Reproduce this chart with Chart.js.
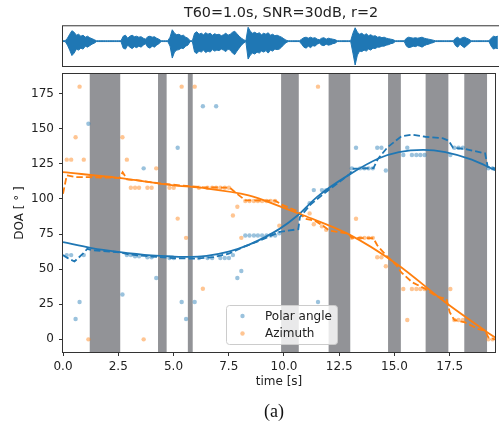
<!DOCTYPE html>
<html>
<head>
<meta charset="utf-8">
<script src="https://cdn.jsdelivr.net/npm/chart.js@4/dist/chart.umd.min.js"></script>
<style>
  html, body { margin: 0; padding: 0; background: #ffffff; }
  #wrap { position: relative; width: 499px; height: 424px; overflow: hidden; background: #ffffff; }
  #wrap canvas { position: absolute; left: 0; top: 0; }
  #caption { position: absolute; left: 224px; width: 100px; top: 401px; text-align: center;
             font-family: 'Liberation Serif', serif; font-size: 18px; line-height: 20px; color: #111; }
</style>
</head>
<body>
<div id="wrap">
  <canvas id="wave" width="499" height="424"></canvas>
  <canvas id="doa" width="499" height="424"></canvas>
  <div id="caption">(a)</div>
</div>
<script>
// ---- figure data -------------------------------------------------------

const titleText = 'T60=1.0s, SNR=30dB, r=2';

// silent intervals of the recording [s]
const silenceStart = [1.21, 4.30, 5.65, 9.87, 12.02, 14.71, 16.41, 18.16];
const silenceEnd   = [2.59, 4.69, 5.87, 10.67, 13.00, 15.29, 17.44, 19.19];

// frame-wise DOA estimates [deg]
const frameTimes = [0.17, 0.37, 0.57, 0.75, 0.94, 1.15,
  2.69, 2.89, 3.07, 3.26, 3.44, 3.65, 3.82, 4.01, 4.22,
  4.82, 5.01, 5.19, 5.37, 5.57,
  5.96, 6.15, 6.33, 6.54, 6.75, 6.93, 7.12, 7.32, 7.51, 7.69, 7.89, 8.07,
  8.25, 8.44, 8.64, 8.82, 9.01, 9.21, 9.40, 9.60, 9.79,
  11.16, 11.35, 11.54, 11.72, 11.91,
  13.07, 13.26, 13.45, 13.64, 13.83, 14.02, 14.22, 14.41, 14.61,
  15.40, 15.58, 15.79, 15.99, 16.17, 16.36,
  17.53, 17.71, 17.90, 18.10,
  19.25, 19.44];
const polarFrames = [60, 60, 14.5, 26.6, 60, 153.6,
  32, 60, 60, 59.2, 59.2, 121.8, 58.5, 58.5, 43.7,
  58, 58, 136.5, 26.6, 14.5,
  26.6, 58, 166, 58, 58, 166, 58, 58, 58, 60, 43.7, 48.7,
  74, 74, 74, 74, 74, 74, 74, 74, 75.6,
  97, 106.3, 26.6, 106.3, 106.3,
  121.8, 136.5, 121.8, 121.8, 121.8, 121.8, 136.5, 136.5, 120.3,
  131.3, 136.5, 131.3, 131.3, 131.3, 131.3,
  131.3, 136.5, 136.5, 136.5,
  121.8, 121.8];
const azimuthFrames = [128, 128, 144, 180, 128, 0,
  144, 128, 108, 108, 108, 0, 108, 108, 121.8,
  108, 108, 86, 180, 72.3,
  180, 108, 36, 108, 108, 108, 108, 108, 108, 88.2, 94.4, 72.3,
  98.5, 98.5, 98.5, 98.5, 98.5, 98.5, 98.5, 98.5, 81,
  89.7, 82, 180, 80.5, 78,
  72.3, 85.9, 72.3, 72.3, 72.3, 72.3, 58.5, 58.5, 52.1,
  35.9, 13.8, 35.9, 35.9, 35.9, 35.9,
  35.9, 13.8, 13.8, 13.8,
  0, 0];

// tracked source direction (dashed)
const polarTrackT   = [0, 0.2, 0.52, 0.9, 1.1, 1.3, 2.6, 3.0, 4.0, 5.0, 6.0, 6.8, 7.5, 8.2, 9.0, 9.8,
  10.65, 10.72, 11.2, 11.9, 12.5, 13.0, 13.1, 14.05, 14.25, 14.7, 15.3, 15.8, 16.4, 17.2, 17.45, 17.65,
  18.2, 19.1, 19.22, 19.55];
const polarTrackDeg = [60, 58, 55.5, 61, 64.5, 63.5, 62, 60.5, 59, 57.8, 57.5, 58.5, 61, 66, 71, 76.5,
  78.5, 87, 96, 105, 112, 118, 121.5, 122, 128.5, 137, 144.5, 145.8, 144.3, 143.2, 141.5, 136.5,
  135.6, 132.5, 123, 121.8];
const azimuthTrackT   = [0, 0.17, 0.6, 1.2, 2.55, 2.7, 2.9, 3.5, 4.5, 5.3, 6.3, 7.55, 7.85, 8.25, 9.6,
  9.9, 10.65, 10.95, 11.4, 11.8, 12.05, 12.9, 13.07, 14.05, 14.22, 14.61, 15.1, 15.3, 15.8, 16.4,
  16.9, 17.35, 17.5, 17.71, 18.2, 18.8, 19.1, 19.25, 19.55];
const azimuthTrackDeg = [103.7, 116.8, 115.5, 115.5, 115, 119, 114, 113, 110.8, 109.7, 108.4, 108, 104,
  99, 98.8, 96, 91, 86, 84.5, 80.5, 77.5, 75.4, 72.3, 72, 67, 60, 52.6, 47.8, 40.7, 35.9,
  30.7, 28.8, 19.3, 13.8, 12.1, 7.3, 6.2, 1.4, 0];

// true source direction (solid)
const polarTrueT   = [0, 1.3, 2.5, 4.0, 5.0, 5.8, 6.5, 7.5, 8.4, 9.8, 10.6, 11.5, 12.9, 14.3, 15.2, 16.3, 17.3, 18.5, 19.55];
const polarTrueDeg = [69.2, 65, 62.3, 59.8, 59, 58.7, 59.5, 62.5, 67.3, 78.7, 88, 101.5, 116.8, 129, 133.4, 135, 133.4, 128, 120.5];
const azimuthTrueT   = [0, 2.5, 5.0, 6.2, 8.4, 9.9, 10.9, 12.9, 15.1, 17.3, 19.1, 19.55];
const azimuthTrueDeg = [119.1, 115, 109.7, 108, 102.5, 94.2, 88.2, 75.1, 53.7, 26.4, 6.2, 1.4];

// microphone signal envelope, one value per 0.1 s starting at 0 s
const waveStep = 0.1;
const waveUpper = [
  0.4, 0.4, 3, 7, 10.5, 9, 6, 7, 5, 6,
  4, 5, 3.5, 2.5, 1.5, 0.4, 0.4, 0.4, 0.4, 0.4,
  0.4, 0.4, 0.4, 0.4, 0.4, 0.4, 0.4, 5, 6, 3,
  5, 6, 4.5, 5, 4, 4.5, 3, 2, 4.5, 5,
  4, 4.5, 3, 2, 0.4, 0.4, 0.4, 0.4, 4, 11.5,
  8, 6.5, 7, 5.5, 6, 4, 3, 0.4, 0.4, 8,
  9.5, 7, 8, 6.5, 8.5, 7, 8, 6, 7.5, 6.5,
  7, 5.5, 6.5, 8, 6, 7, 9, 10, 7.5, 5,
  3, 1.5, 0.4, 14, 10, 8, 9, 7.5, 8.5, 6.5,
  8, 7, 8.5, 6, 7, 5.5, 6, 5, 4, 2.5,
  1, 0.4, 0.4, 0.4, 0.4, 0.4, 0.4, 2, 3.5, 4,
  3, 4, 3, 3.5, 2, 1.5, 3, 3.5, 2, 3,
  2.5, 2, 1.5, 0.4, 0.4, 0.4, 0.4, 0.4, 0.4, 0.4,
  8, 13.5, 9, 7, 8, 6, 7.5, 5.5, 6.5, 5,
  5.5, 4, 4.5, 3.5, 4, 3, 2.5, 2, 1.5, 0.4,
  0.4, 0.4, 0.4, 0.4, 3, 4, 3.5, 3, 3.5, 3,
  3.5, 4, 3, 2.5, 2, 1.5, 1, 0.4, 0.4, 0.4,
  0.4, 0.4, 0.4, 0.4, 0.4, 0.4, 3, 4, 2, 3.5,
  4, 3, 2, 0.4, 0.4, 0.4, 0.4, 0.4, 0.4, 0.4,
  0.4, 0.4, 3, 5, 4.5, 5];
const waveLower = [
  -0.4, -0.4, -4, -9, -14.5, -12, -8, -9, -7, -8,
  -5, -6, -4.5, -3, -2, -0.4, -0.4, -0.4, -0.4, -0.4,
  -0.4, -0.4, -0.4, -0.4, -0.4, -0.4, -0.4, -7, -8, -4,
  -6, -7.5, -5.5, -6.5, -5, -6, -4, -2.5, -6, -7,
  -5, -6, -4, -2.5, -0.4, -0.4, -0.4, -0.4, -5, -17,
  -11, -9, -8.5, -7, -7.5, -5, -4, -0.4, -0.4, -11,
  -12.5, -10, -11, -9, -11.5, -10, -11, -8.5, -10, -9,
  -9.5, -8, -9, -10.5, -8, -9, -12, -13.5, -10, -7,
  -4, -2, -0.4, -18, -14, -12, -13, -11, -12, -10,
  -11, -9.5, -12, -9, -10, -8, -8.5, -8, -6, -3.5,
  -1.5, -0.4, -0.4, -0.4, -0.4, -0.4, -0.4, -3, -6, -7,
  -5, -6.5, -4.5, -5, -3, -2, -4, -4.5, -3, -4,
  -3.5, -2.5, -2, -0.4, -0.4, -0.4, -0.4, -0.4, -0.4, -0.4,
  -12, -24, -14, -10, -10.5, -9, -10, -8, -9, -7,
  -7.5, -6, -6, -5, -5, -4, -3.5, -2.5, -2, -0.4,
  -0.4, -0.4, -0.4, -0.4, -5, -6.5, -6, -5, -5.5, -4.5,
  -5, -6, -4.5, -3.5, -3, -2, -1.5, -0.4, -0.4, -0.4,
  -0.4, -0.4, -0.4, -0.4, -0.4, -0.4, -4.5, -6, -3, -5,
  -6.5, -4.5, -2.5, -0.4, -0.4, -0.4, -0.4, -0.4, -0.4, -0.4,
  -0.4, -0.4, -5, -8, -7, -7.5];

const xTickValues = [0, 2.5, 5, 7.5, 10, 12.5, 15, 17.5];
const yTickValues = [0, 25, 50, 75, 100, 125, 150, 175];

// ---- styling -----------------------------------------------------------

const FONT = "'DejaVu Sans', sans-serif";
const TEXT = '#222222';
const SPINE = '#333333';
const BAND = '#929397';
const BLUE = '#1f77b4';
const ORANGE = '#ff7f0e';
const BLUE_DOT = 'rgba(31,119,180,0.45)';
const ORANGE_DOT = 'rgba(255,127,14,0.45)';
const T_MAX = 19.55;

const xy = (ts, vs) => ts.map((t, i) => ({ x: t, y: vs[i] }));
const waveXY = vs => vs.map((v, i) => ({ x: i * waveStep, y: v }));

// gray silence bands behind the data
const silencePlugin = {
  id: 'silenceBands',
  beforeDatasetsDraw(chart) {
    const { ctx, chartArea: a, scales: { x } } = chart;
    ctx.save();
    ctx.fillStyle = BAND;
    silenceStart.forEach((s, i) => {
      const x0 = x.getPixelForValue(s);
      const x1 = x.getPixelForValue(silenceEnd[i]);
      ctx.fillRect(x0, a.top, x1 - x0, a.bottom - a.top);
    });
    ctx.restore();
  }
};

// box around the plotting area
const framePlugin = {
  id: 'axesFrame',
  afterDraw(chart) {
    const { ctx, chartArea: a } = chart;
    ctx.save();
    ctx.strokeStyle = SPINE;
    ctx.lineWidth = 1;
    ctx.strokeRect(a.left - 0.5, a.top - 0.5, a.right - a.left + 1, a.bottom - a.top + 1);
    ctx.restore();
  }
};

// legend placed inside the axes
const insideLegend = {
  id: 'insideLegend',
  afterDraw(chart) {
    const { ctx } = chart;
    const entries = chart.data.datasets.filter(d => d.inLegend);
    const box = { x: 226.5, y: 305.5, w: 111, h: 39 };
    ctx.save();
    ctx.beginPath();
    ctx.roundRect(box.x, box.y, box.w, box.h, 3);
    ctx.fillStyle = 'rgba(255,255,255,0.8)';
    ctx.fill();
    ctx.strokeStyle = '#cccccc';
    ctx.lineWidth = 1;
    ctx.stroke();
    ctx.font = '12px ' + FONT;
    ctx.textBaseline = 'middle';
    ctx.textAlign = 'left';
    entries.forEach((d, i) => {
      const y = 316 + i * 17.5;
      ctx.beginPath();
      ctx.arc(242.5, y, 2.2, 0, Math.PI * 2);
      ctx.fillStyle = d.backgroundColor;
      ctx.fill();
      ctx.fillStyle = TEXT;
      ctx.fillText(d.label, 265, y + 0.5);
    });
    ctx.restore();
  }
};

Chart.defaults.font.family = FONT;
Chart.defaults.color = TEXT;

// ---- waveform strip ----------------------------------------------------

new Chart(document.getElementById('wave'), {
  type: 'line',
  data: {
    datasets: [
      { data: waveXY(waveUpper), borderColor: BLUE, borderWidth: 1, pointRadius: 0, fill: false, tension: 0 },
      { data: waveXY(waveLower), borderColor: BLUE, borderWidth: 1, pointRadius: 0, tension: 0,
        fill: '-1', backgroundColor: BLUE }
    ]
  },
  options: {
    responsive: false,
    animation: false,
    events: [],
    layout: { padding: { left: 63, right: 0, top: 0, bottom: 358 } },
    plugins: {
      legend: { display: false },
      tooltip: { enabled: false },
      title: {
        display: true, text: titleText, color: TEXT,
        font: { family: FONT, size: 14.4, weight: 'normal' },
        padding: { top: 5, bottom: 4 }
      }
    },
    scales: {
      x: { type: 'linear', display: false, min: 0, max: T_MAX },
      y: { type: 'linear', display: false, min: -25, max: 15 }
    }
  },
  plugins: [framePlugin]
});

// ---- DOA plot ----------------------------------------------------------

const axisFont = { family: FONT, size: 12 };

new Chart(document.getElementById('doa'), {
  type: 'scatter',
  data: {
    datasets: [
      { type: 'line', label: 'polar track', data: xy(polarTrackT, polarTrackDeg), borderColor: BLUE,
        borderWidth: 1.8, borderDash: [6.5, 3], pointRadius: 0, tension: 0, fill: false, order: 0 },
      { type: 'line', label: 'azimuth track', data: xy(azimuthTrackT, azimuthTrackDeg), borderColor: ORANGE,
        borderWidth: 1.8, borderDash: [6.5, 3], pointRadius: 0, tension: 0, fill: false, order: 0 },
      { type: 'line', label: 'polar true', data: xy(polarTrueT, polarTrueDeg), borderColor: BLUE,
        borderWidth: 1.8, pointRadius: 0, cubicInterpolationMode: 'monotone', fill: false, order: 0 },
      { type: 'line', label: 'azimuth true', data: xy(azimuthTrueT, azimuthTrueDeg), borderColor: ORANGE,
        borderWidth: 1.8, pointRadius: 0, cubicInterpolationMode: 'monotone', fill: false, order: 0 },
      { label: 'Polar angle', inLegend: true, data: xy(frameTimes, polarFrames),
        backgroundColor: BLUE_DOT, borderWidth: 0, pointRadius: 2.2, order: 1 },
      { label: 'Azimuth', inLegend: true, data: xy(frameTimes, azimuthFrames),
        backgroundColor: ORANGE_DOT, borderWidth: 0, pointRadius: 2.2, order: 1 }
    ]
  },
  options: {
    responsive: false,
    animation: false,
    events: [],
    layout: { padding: { left: 0, right: 0, top: 74, bottom: 24 } },
    plugins: { legend: { display: false }, tooltip: { enabled: false }, title: { display: false } },
    scales: {
      x: {
        type: 'linear', min: 0, max: T_MAX,
        afterBuildTicks: s => { s.ticks = xTickValues.map(v => ({ value: v })); },
        afterFit: s => { s.height = 48; },
        ticks: { callback: v => v.toFixed(1), font: axisFont, color: TEXT, padding: 4,
                 autoSkip: false, maxRotation: 0 },
        grid: { display: true, drawOnChartArea: false, drawTicks: true, tickLength: 4, color: SPINE, lineWidth: 1 },
        border: { display: false },
        title: { display: true, text: 'time [s]', font: axisFont, color: TEXT, padding: { top: 0, bottom: 11 } }
      },
      y: {
        type: 'linear', min: -9, max: 189,
        afterBuildTicks: s => { s.ticks = yTickValues.map(v => ({ value: v })); },
        afterFit: s => { s.width = 63; },
        ticks: { callback: v => String(v), font: axisFont, color: TEXT, padding: 5, autoSkip: false },
        grid: { display: true, drawOnChartArea: false, drawTicks: true, tickLength: 4, color: SPINE, lineWidth: 1 },
        border: { display: false },
        title: { display: true, text: 'DOA [ ° ]', font: axisFont, color: TEXT, padding: { top: 13, bottom: 0 } }
      }
    }
  },
  plugins: [silencePlugin, framePlugin, insideLegend]
});
</script>
</body>
</html>
